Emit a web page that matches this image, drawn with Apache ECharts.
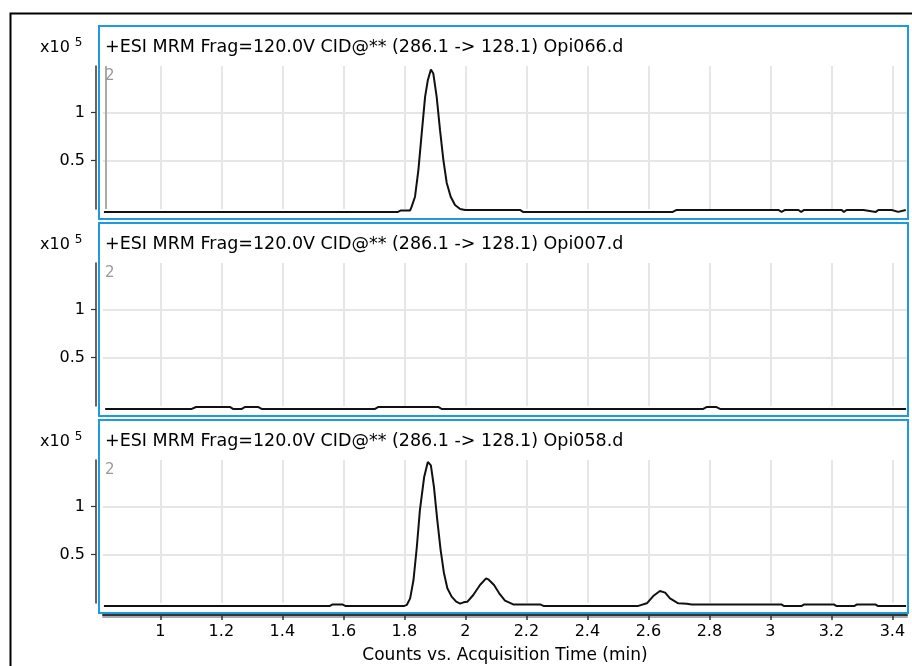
<!DOCTYPE html>
<html><head><meta charset="utf-8">
<script src="https://cdn.jsdelivr.net/npm/echarts@6/dist/echarts.min.js"></script>
<style>html,body{margin:0;padding:0;background:#fff}#c{width:912px;height:666px}</style>
</head><body><div id="c"></div>
<script>
// ---- data (time in min, counts in x10^5) ----
const panelTitles = [
  '+ESI MRM Frag=120.0V CID@** (286.1 -> 128.1) Opi066.d',
  '+ESI MRM Frag=120.0V CID@** (286.1 -> 128.1) Opi007.d',
  '+ESI MRM Frag=120.0V CID@** (286.1 -> 128.1) Opi058.d'
];
const times1 = [0.815,1.779,1.789,1.819,1.824,1.835,1.846,1.857,1.868,1.877,1.887,1.895,1.906,1.917,1.928,1.939,1.952,1.966,1.983,1.999,2.179,2.189,2.680,2.693,3.026,3.037,3.048,3.092,3.101,3.111,3.234,3.241,3.250,3.305,3.310,3.346,3.354,3.398,3.402,3.419,3.425,3.444];
const counts1 = [-0.03,-0.03,-0.015,-0.015,0.024,0.127,0.403,0.785,1.16,1.333,1.443,1.402,1.16,0.816,0.506,0.269,0.127,0.041,0.0,-0.01,-0.01,-0.03,-0.03,-0.01,-0.01,-0.03,-0.01,-0.01,-0.03,-0.01,-0.01,-0.03,-0.01,-0.01,-0.03,-0.03,-0.01,-0.01,-0.03,-0.03,-0.01,-0.01];
const times2 = [0.819,1.103,1.117,1.228,1.238,1.267,1.278,1.320,1.332,1.704,1.715,1.911,1.922,2.780,2.792,2.822,2.835,3.445];
const counts2 = [-0.03,-0.03,-0.01,-0.01,-0.03,-0.03,-0.01,-0.01,-0.03,-0.03,-0.01,-0.01,-0.03,-0.03,-0.01,-0.01,-0.03,-0.03];
const times3 = [0.815,1.556,1.565,1.597,1.606,1.800,1.808,1.819,1.830,1.841,1.851,1.865,1.877,1.887,1.897,1.908,1.919,1.930,1.941,1.955,1.970,1.983,1.994,2.007,2.026,2.048,2.068,2.075,2.094,2.111,2.130,2.157,2.245,2.256,2.567,2.595,2.616,2.638,2.655,2.671,2.698,2.726,2.742,3.036,3.044,3.103,3.111,3.208,3.216,3.276,3.284,3.344,3.352,3.445];
const counts3 = [-0.03,-0.03,-0.015,-0.015,-0.03,-0.03,-0.02,0.048,0.238,0.582,0.961,1.305,1.46,1.425,1.202,0.858,0.548,0.307,0.152,0.066,0.014,-0.007,0.007,0.014,0.083,0.186,0.255,0.245,0.186,0.1,0.024,-0.015,-0.015,-0.03,-0.03,-0.003,0.072,0.124,0.107,0.048,-0.003,-0.007,-0.015,-0.015,-0.03,-0.03,-0.015,-0.015,-0.03,-0.03,-0.015,-0.015,-0.03,-0.03];
const xTicks = [1,1.2,1.4,1.6,1.8,2,2.2,2.4,2.6,2.8,3,3.2,3.4];
const yTicks = [0.5,1];
const xName = 'Counts vs. Acquisition Time (min)';
const yScaleLabel = 'x10';
const yScaleExp = '5';
const cornerMark = '2';
const xRange = [0.812, 3.448];
const yRange = [0, 1.48];

// ---- layout ----
const FONT = 'DejaVu Sans, Liberation Sans, sans-serif';
const series = [[times1,counts1],[times2,counts2],[times3,counts3]];
const gridTops = [66, 263, 460];
const boxTops = [26, 223, 420];
const grids = [], xAxes = [], yAxes = [], sers = [], titles = [], graphics = [];

graphics.push({type:'rect', shape:{x:10.5,y:13.5,width:950,height:700}, style:{fill:'none',stroke:'#000',lineWidth:2}, silent:true});

for (let k = 0; k < 3; k++) {
  const last = k === 2;
  grids.push({left:103, width:804, top:gridTops[k], height:143});
  xAxes.push({
    type:'value', gridIndex:k, min:xRange[0], max:xRange[1],
    offset: last ? 12 : 0,
    axisLine:{show:last, onZero:false, lineStyle:{color:'#333', width:2, shadowColor:'#aaa', shadowOffsetY:2, shadowBlur:0}},
    axisTick:{show:last, customValues:xTicks, length:5, lineStyle:{color:'#333', width:1.5}},
    axisLabel:{show:last, customValues:xTicks, margin:9, color:'#000', fontSize:16, fontFamily:FONT},
    splitLine:{show:true, lineStyle:{color:'#e6e6e6', width:2}},
    name: last ? xName : '', nameLocation:'middle', nameGap:32,
    nameTextStyle:{color:'#000', fontSize:17, fontFamily:FONT}
  });
  yAxes.push({
    type:'value', gridIndex:k, min:yRange[0], max:yRange[1], offset:7,
    axisLine:{show:true, lineStyle:{color:'#333', width:1.5}},
    axisTick:{show:true, customValues:yTicks, length:5, lineStyle:{color:'#333', width:1.2}},
    axisLabel:{customValues:yTicks, margin:11, color:'#000', fontSize:16, fontFamily:FONT},
    splitLine:{show:true, lineStyle:{color:'#e6e6e6', width:2}}
  });
  const s = {
    type:'line', xAxisIndex:k, yAxisIndex:k, clip:false, showSymbol:false, silent:true,
    data: series[k][0].map((t,i)=>[t, series[k][1][i]]),
    lineStyle:{color:'#111', width:2}, z:3
  };
  if (k === 0) {
    s.markLine = {silent:true, symbol:['none','none'], label:{show:false},
      lineStyle:{color:'#aaa', width:2, type:'solid'}, data:[{xAxis:0.818}]};
  }
  sers.push(s);
  titles.push({text:panelTitles[k], left:105, top:boxTops[k]+12, padding:0,
    textStyle:{fontSize:17.5, fontWeight:'normal', color:'#000', fontFamily:FONT}});
  titles.push({text:'{a|'+yScaleLabel+'} {b|'+yScaleExp+'}', left:40, top:boxTops[k]+11, padding:0,
    textStyle:{fontWeight:'normal', rich:{a:{fontSize:16, color:'#000', fontFamily:FONT, fontWeight:'normal'}, b:{fontSize:12, color:'#000', fontFamily:FONT, fontWeight:'normal', padding:[0,0,9,0]}}}});
  titles.push({text:cornerMark, left:105, top:gridTops[k]+3, padding:0,
    textStyle:{fontSize:15, fontWeight:'normal', color:'#999', fontFamily:FONT}});
  graphics.push({type:'rect', shape:{x:99, y:boxTops[k], width:809, height:193}, style:{fill:'none', stroke:'#1E9BE0', lineWidth:2}, silent:true, z:10});
}

const chart = echarts.init(document.getElementById('c'), null, {renderer:'canvas'});
chart.setOption({
  animation:false, backgroundColor:'#fff',
  title:titles, grid:grids, xAxis:xAxes, yAxis:yAxes, series:sers, graphic:graphics
});
</script></body></html>
